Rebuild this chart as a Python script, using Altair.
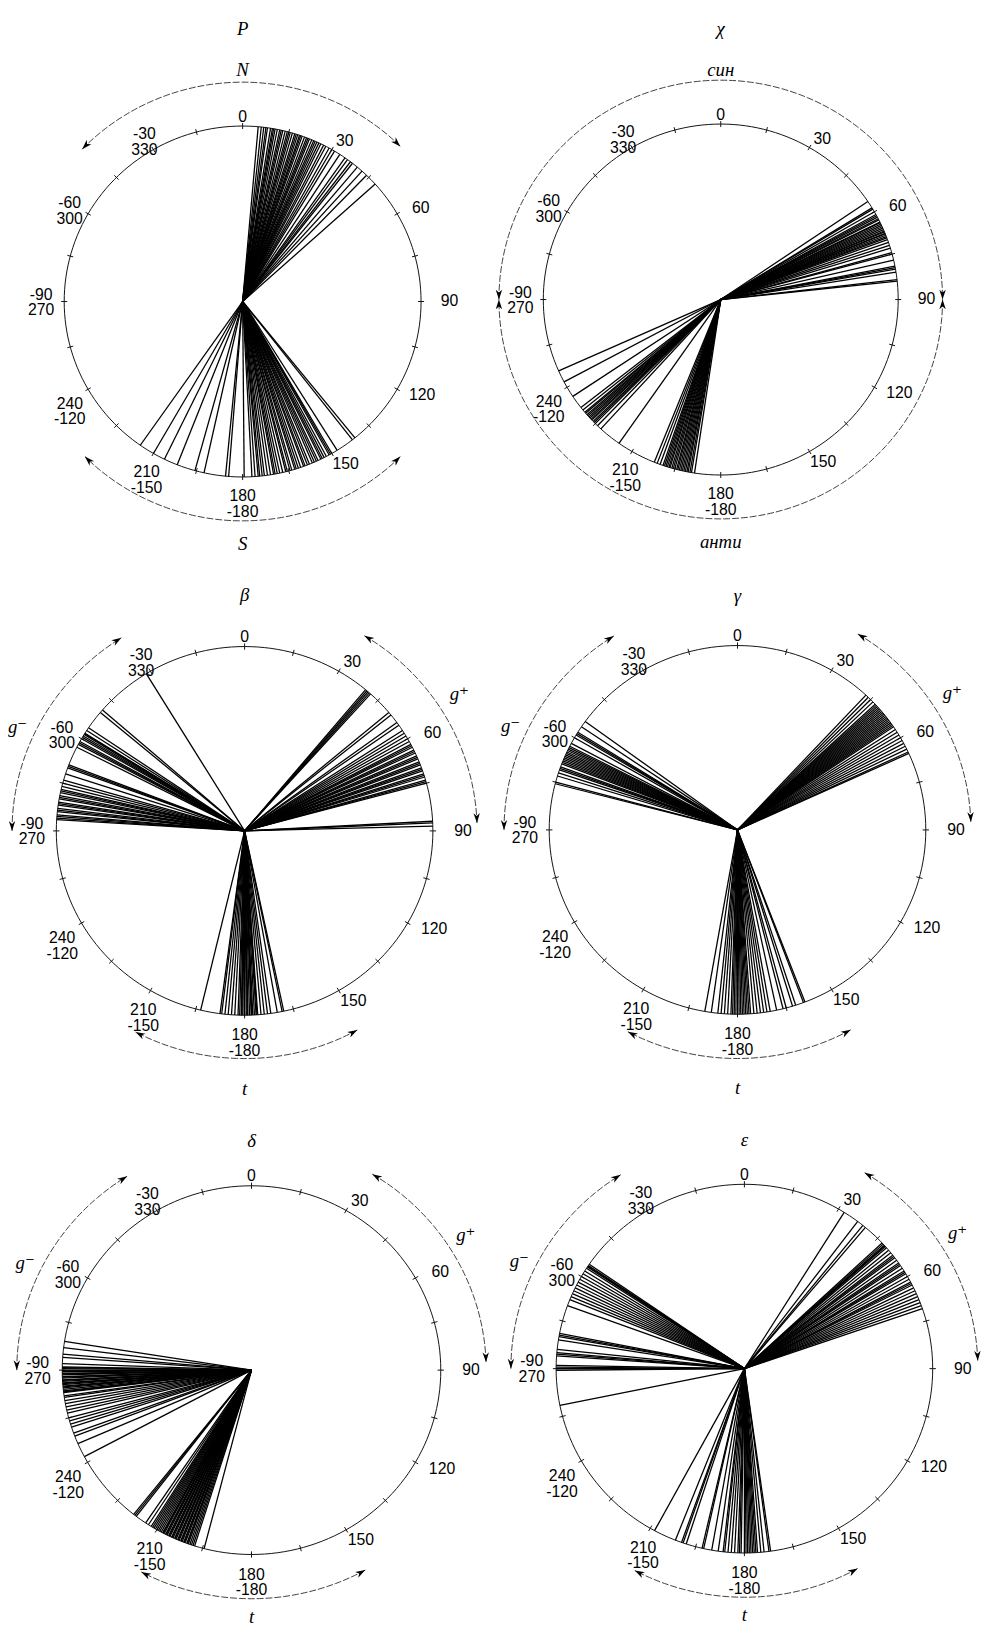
import numpy as np
import pandas as pd
import altair as alt

# ---------------- data: torsion angles (degrees, clockwise from the top) ----------------
P_ANGLES = [5, 6, 6.8, 7.5, 8, 9, 9.6, 10, 10.5, 11.2, 12, 12.5, 13, 13.8, 14.5, 15, 15.5, 16.2,
            17, 17.5, 18, 18.6, 19, 19.5, 20.3, 21, 21.5, 22, 22.8, 23.5, 24, 24.6, 25.3, 26, 27,
            27.8, 29, 30, 31, 33, 35, 36, 37.2, 38, 40, 42, 44, 48,
            141, 142, 148, 150, 150.5, 151, 152, 152.8, 153.5, 154, 155, 155.6, 156.3, 157, 158,
            158.7, 159.5, 160, 161, 161.8, 162.5, 163, 164, 164.6, 165.5, 166, 167, 168, 168.8,
            169.5, 170, 171, 172, 173, 173.7, 174.5, 175, 176, 177, 179.5, 184.5, 185.5, 192.5,
            195.5, 201.5, 206, 210, 215]

CHI_ANGLES = [56, 58.5, 59, 60, 61, 61.5, 62, 62.6, 63, 63.8, 64, 64.5, 65, 65.5, 66, 66.5, 67,
              67.3, 67.8, 68, 68.5, 69, 69.4, 70, 71, 72, 73, 74.5, 75, 77, 79, 79.5, 80, 81,
              83.5, 84,
              188.5, 189.5, 190, 190.6, 191, 191.5, 192, 192.5, 193, 193.5, 194, 194.4, 195,
              195.5, 196, 196.6, 197, 197.5, 198, 198.5, 199, 200, 201, 202, 215, 222.5, 224,
              225, 225.5, 226, 226.6, 227, 227.5, 228, 228.5, 229, 229.6, 230, 231, 232, 236.5,
              242, 246]

BETA_ANGLES = [-31.5, -49, -50, -56, -57, -58, -58.2, -58.5, -59, -59.5, -60, -61, -61.5, -62,
               -63, -69, -69.5, -70, -72, -74, -75, -76, -77, -77.5, -78, -79, -79.5, -80, -81,
               -81.5, -82, -83, -83.5, -84, -85, -85.5, -86, -86.5,
               40, 40.5, 41, 41.5, 42, 50, 51, 54, 55, 57, 58, 59, 60, 61, 62, 62.5, 63, 64,
               64.5, 65, 66, 66.5, 67, 68, 68.5, 69, 70, 70.5, 71, 72, 72.5, 73, 74, 74.5, 75,
               87, 87.5, 88.5,
               168, 168.5, 170, 172, 173, 174, 175, 176, 176.2, 176.5, 177, 177.5, 177.8, 178,
               178.5, 179, 179.2, 179.5, 180, 180.5, 180.8, 181, 181.5, 182, 183, 184, 185, 186,
               187, 187.5, 193.5]

GAMMA_ANGLES = [43, 44, 45, 46, 47, 47.5, 48, 48.5, 49, 49.5, 50, 50.5, 51, 51.5, 52, 52.5, 53,
                53.5, 54, 54.5, 55, 55.5, 56, 57, 58, 59, 60, 61, 62, 63, 64, 65, 65.5,
                -54, -56, -58, -58.5, -59, -60, -62, -63, -63.5, -64, -64.5, -65, -65.5, -66,
                -66.5, -67, -67.5, -68, -68.5, -69, -70, -70.5, -71, -72, -73, -75, -75.5,
                159, 159.5, 162, 163, 165, 166, 168, 170, 171, 172, 173, 174, 175, 176, 176.5,
                177, 177.5, 178, 178.5, 179, 179.5, 180, 180.5, 181, 181.5, 182, 183, 184, 185,
                186, 188, 190]

DELTA_ANGLES = [242, 246.5, 249, 250, 252, 253, 254, 255, 256.5, 257.5, 258.5, 259.5, 260.5,
                261.5, 262, 263, 263.2, 263.5, 264, 264.5, 264.8, 265, 265.5, 265.8, 266, 266.5,
                266.8, 267, 267.5, 267.8, 268, 268.5, 268.8, 269, 269.5, 269.8, 270, 270.5,
                270.8, 271, 272, 274, 275, 277, 279,
                194.5, 197.5, 198, 198.5, 199, 199.5, 199.8, 200, 200.5, 200.8, 201, 201.5,
                201.8, 202, 202.5, 202.8, 203, 203.5, 203.8, 204, 204.5, 204.8, 205, 205.5,
                205.8, 206, 206.5, 206.8, 207, 207.5, 207.8, 208, 208.5, 209, 209.5, 210, 210.5,
                211, 211.5, 212, 213, 214, 217.5, 218, 218.5]

EPSILON_ANGLES = [32, 37, 39, 40, 47, 47.5, 48, 48.2, 48.5, 49, 50, 51, 52, 52.5, 53, 54, 55,
                  55.5, 56, 57, 58, 58.5, 59, 60, 61, 62, 62.5, 63, 64, 65, 66, 67, 68, 69, 70,
                  71,
                  -55.5, -56, -56.2, -56.5, -57, -58, -59, -60, -61, -62, -63, -64, -65, -66,
                  -67, -68, -70, -79, -79.5, -80, -81, -84, -85, -85.5, -86, -89, -89.5, -90,
                  -90.5, -101.5,
                  172, 172.5, 174, 175, 176, 176.5, 177, 177.5, 178, 178.5, 179, 179.5, 180,
                  181, 181.5, 182, 183, 184, 185, 186, 186.5, 188, 190, 192.5, 193, 198, 199,
                  199.5, 201.5, 208.5]

TICK_ANGLES = [0, 15, 30, 45, 60, 75, 90, 105, 120, 135, 150, 165, 180, 195, 210, 225, 240,
               255, 270, 285, 300, 315, 330, 345]
LABEL_ANGLES = [0, 30, 60, 90, 120, 150, 180, 210, 240, 270, 300, 330]
LABEL_TEXTS = ["0", "30", "60", "90", "120", "150", "180\n-180", "210\n-150", "240\n-120",
               "-90\n270", "-60\n300", "-30\n330"]

# conformational regions: name, from-angle, to-angle
P_REGION_NAMES = ["N", "S"]
P_REGION_FROM = [-46, 135]
P_REGION_TO = [45, 225]

CHI_REGION_NAMES = ["син", "анти"]
CHI_REGION_FROM = [-90, 90]
CHI_REGION_TO = [90, 270]

G_REGION_NAMES = ["g⁺", "g⁻", "t"]
G_REGION_FROM = [31, 270, 151]
G_REGION_TO = [88, 328, 208]

# ---------------- layout (pixels of the page, not data) ----------------
COL_LEFT = [8, 494]
COL_W = [486, 487]
ROW_TOP = [8, 545, 1095]
ROW_H = [537, 550, 530]

LABEL_POS = {0: (0, 1.05), 30: (32, 1.08), 60: (62, 1.13), 90: (90, 1.16), 120: (118, 1.14),
             150: (148, 1.09), 180: (180, 1.11), 210: (209, 1.11), 240: (239, 1.13),
             270: (272, 1.13), 300: (300, 1.12), 330: (330, 1.10)}

SERIF = "Liberation Serif, DejaVu Serif, serif"
SANS = "Liberation Sans, Arial, sans-serif"
ARROW = "M0,0L0.62,1.9L0,1.35L-0.62,1.9Z"

G_LABEL2 = {"g⁺": (57, 1.36), "g⁻": (-65, 1.33), "t": (180, 1.40)}
G_LABEL3 = {"g⁺": (57, 1.35), "g⁻": (-64, 1.33), "t": (180, 1.337)}

PANELS = [
    dict(title="P", angles=P_ANGLES, names=P_REGION_NAMES, a0=P_REGION_FROM, a1=P_REGION_TO,
         cx=244, cy=293, rx=181, ry=178, arc_r=1.25, title_r=1.555,
         rlab={"N": (0, 1.32), "S": (180, 1.38)}),
    dict(title="χ", angles=CHI_ANGLES, names=CHI_REGION_NAMES, a0=CHI_REGION_FROM, a1=CHI_REGION_TO,
         cx=729, cy=291, rx=180, ry=178, arc_r=1.25, title_r=1.54,
         rlab={"син": (0, 1.31), "анти": (180, 1.38)}),
    dict(title="β", angles=BETA_ANGLES, names=G_REGION_NAMES, a0=G_REGION_FROM, a1=G_REGION_TO,
         cx=246, cy=830, rx=191, ry=187, arc_r=1.235, title_r=1.28, rlab=G_LABEL2),
    dict(title="γ", angles=GAMMA_ANGLES, names=G_REGION_NAMES, a0=G_REGION_FROM, a1=G_REGION_TO,
         cx=746, cy=829, rx=191, ry=187, arc_r=1.24, title_r=1.27, rlab=G_LABEL2),
    dict(title="δ", angles=DELTA_ANGLES, names=G_REGION_NAMES, a0=G_REGION_FROM, a1=G_REGION_TO,
         cx=253, cy=1377, rx=192, ry=187, arc_r=1.24, title_r=1.24, rlab=G_LABEL3),
    dict(title="ε", angles=EPSILON_ANGLES, names=G_REGION_NAMES, a0=G_REGION_FROM, a1=G_REGION_TO,
         cx=753, cy=1375.5, rx=191, ry=187, arc_r=1.24, title_r=1.24, rlab=G_LABEL3),
]


def polar(a_deg, r):
    t = np.deg2rad(np.asarray(a_deg, dtype=float))
    return r * np.sin(t), r * np.cos(t)


def panel(spec, L, T, W, H):
    cx, cy, rx, ry = spec["cx"], spec["cy"], spec["rx"], spec["ry"]
    xs = alt.Scale(domain=[(L - cx) / rx, (L + W - cx) / rx], nice=False, zero=False)
    ys = alt.Scale(domain=[(cy - (T + H)) / ry, (cy - T) / ry], nice=False, zero=False)

    def X(f):
        return alt.X(f"{f}:Q", scale=xs, axis=None)

    def Y(f):
        return alt.Y(f"{f}:Q", scale=ys, axis=None)

    # circle outline
    th = np.arange(0, 361, 2)
    cxs, cys = polar(th, 1.0)
    circ = alt.Chart(pd.DataFrame({"o": th, "x": cxs, "y": cys})).mark_line(
        color="#111111", strokeWidth=1).encode(x=X("x"), y=Y("y"), order="o:Q")

    # ticks
    tx0, ty0 = polar(TICK_ANGLES, 0.983)
    tx1, ty1 = polar(TICK_ANGLES, 1.017)
    ticks = alt.Chart(pd.DataFrame({"x": tx0, "y": ty0, "x2": tx1, "y2": ty1})).mark_rule(
        color="#111111", strokeWidth=1).encode(x=X("x"), y=Y("y"), x2="x2:Q", y2="y2:Q")

    # spokes
    spokes = alt.Chart(pd.DataFrame({"a": spec["angles"]})).transform_calculate(
        x0="0", y0="0",
        x1="sin(datum.a * PI / 180)", y1="cos(datum.a * PI / 180)"
    ).mark_rule(color="black", strokeWidth=1.3).encode(
        x=X("x0"), y=Y("y0"), x2="x1:Q", y2="y1:Q")

    # tick labels
    la = [LABEL_POS[a][0] for a in LABEL_ANGLES]
    lr = [LABEL_POS[a][1] for a in LABEL_ANGLES]
    t = np.deg2rad(la)
    lab = pd.DataFrame({"text": LABEL_TEXTS, "x": np.array(lr) * np.sin(t), "y": np.array(lr) * np.cos(t)})
    labels = alt.Chart(lab).mark_text(font=SANS, fontSize=16, lineBreak="\n", lineHeight=16,
                                      color="black", align="center", baseline="middle").encode(
        x=X("x"), y=Y("y"), text="text:N")

    # region arcs
    rows, heads, rl = [], [], []
    for name, a0, a1 in zip(spec["names"], spec["a0"], spec["a1"]):
        pts = np.linspace(a0, a1, int(abs(a1 - a0)) + 1)
        px, py = polar(pts, spec["arc_r"])
        for i, (u, v) in enumerate(zip(px, py)):
            rows.append({"region": name, "o": i, "x": u, "y": v})
        ex, ey = polar([a1], spec["arc_r"])
        sx, sy = polar([a0], spec["arc_r"])
        heads.append({"x": ex[0], "y": ey[0], "rot": (a1 + 90) % 360})
        heads.append({"x": sx[0], "y": sy[0], "rot": (a0 + 270) % 360})
        la_, lr_ = spec["rlab"][name]
        qx, qy = polar([la_], lr_)
        rl.append({"text": name, "x": qx[0], "y": qy[0]})
    arcs = alt.Chart(pd.DataFrame(rows)).mark_line(
        color="#2a2a2a", strokeWidth=0.9, strokeDash=[7, 2]).encode(
        x=X("x"), y=Y("y"), detail="region:N", order="o:Q")
    arrows = alt.Chart(pd.DataFrame(heads)).mark_point(
        shape=ARROW, filled=True, size=110, color="black", opacity=1).encode(
        x=X("x"), y=Y("y"), angle=alt.Angle("rot:Q", scale=None))
    rlabels = alt.Chart(pd.DataFrame(rl)).mark_text(
        font=SERIF, fontStyle="italic", fontSize=19, color="black",
        align="center", baseline="middle").encode(x=X("x"), y=Y("y"), text="text:N")

    title = alt.Chart(pd.DataFrame({"text": [spec["title"]], "x": [0.0], "y": [spec["title_r"]]})).mark_text(
        font=SERIF, fontStyle="italic", fontSize=19, color="black",
        align="center", baseline="middle").encode(x=X("x"), y=Y("y"), text="text:N")

    return alt.layer(circ, ticks, spokes, labels, arcs, arrows, rlabels, title).properties(
        width=W, height=H)


cells = []
for r in range(3):
    for c in range(2):
        spec = PANELS[2 * r + c]
        cells.append(panel(spec, COL_LEFT[c], ROW_TOP[r], COL_W[c], ROW_H[r]))

chart = alt.concat(*cells, columns=2, spacing=0, bounds="flush", align="each", padding=0,
                   background="white").resolve_scale(
    x="independent", y="independent"
).configure_view(stroke="transparent", strokeWidth=0)

chart.save("out.html", embed_options={"renderer": "svg", "actions": False})
